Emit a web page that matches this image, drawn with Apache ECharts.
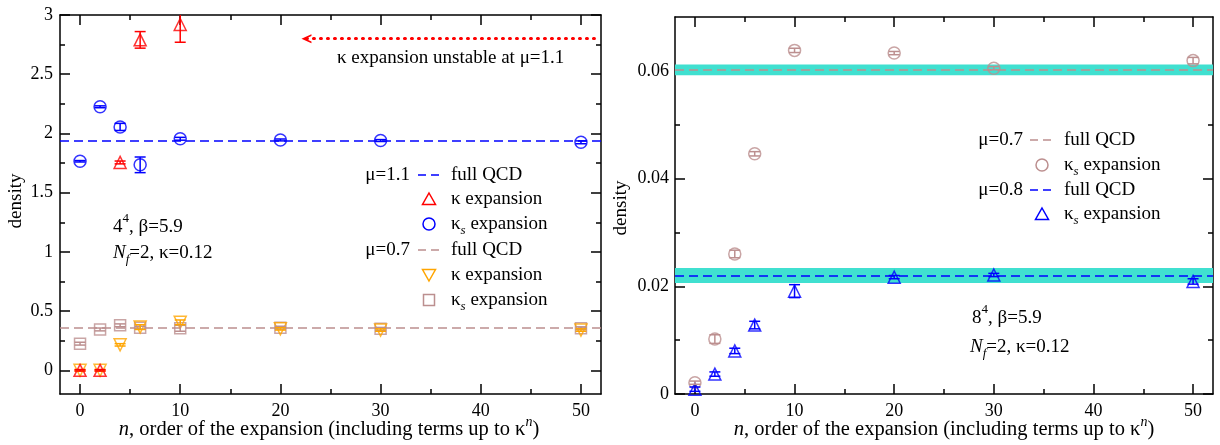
<!DOCTYPE html>
<html><head><meta charset="utf-8">
<script src="https://cdn.jsdelivr.net/npm/echarts@6/dist/echarts.min.js"></script>
<style>html,body{margin:0;padding:0;background:#fff}#c{width:1220px;height:445px}</style>
</head><body><div id="c"></div>
<script>
// ---------- data ----------
const nAll = [0, 2, 4, 6, 10, 20, 30, 50];
const nKappa = [0, 2, 4, 6, 10];
// left panel (4^4)
const ks11 = [1.765, 2.225, 2.055, 1.735, 1.955, 1.945, 1.94, 1.925];
const ks11Err = [0.006, 0.008, 0.03, 0.066, 0.012, 0.008, 0.008, 0.012];
const k11 = [0, 0, 1.755, 2.79, 2.92];
const k11Err = [0.006, 0.006, 0.012, 0.07, 0.15];
const k07 = [0, 0, 0.215, 0.365, 0.405, 0.35, 0.34, 0.34];
const k07Err = [0.006, 0.006, 0.01, 0.02, 0.02, 0.01, 0.01, 0.01];
const ks07 = [0.225, 0.345, 0.38, 0.36, 0.355, 0.36, 0.35, 0.355];
const ks07Err = [0.012, 0.012, 0.012, 0.012, 0.025, 0.012, 0.012, 0.012];
const qcd11 = 1.94;
const qcd07 = 0.362;
const arrowY = 2.8, arrowX0 = 22.6, arrowX1 = 51.8;
// right panel (8^4)
const ks07R = [0.0021, 0.0102, 0.026, 0.0446, 0.0638, 0.0633, 0.0605, 0.0619];
const ks07RErr = [0.0003, 0.0008, 0.0007, 0.0004, 0.0004, 0.0003, 0.0003, 0.0006];
const ks08R = [0.0009, 0.0037, 0.008, 0.0128, 0.0191, 0.0217, 0.0221, 0.0209];
const ks08RErr = [0.0004, 0.0004, 0.0005, 0.0007, 0.0012, 0.0003, 0.0003, 0.0005];
const qcd07R = 0.0602, qcd07RErr = 0.001;
const qcd08R = 0.022, qcd08RErr = 0.0014;
// ticks
const xMajor = [0, 10, 20, 30, 40, 50];
const xMinor = [5, 15, 25, 35, 45];
const yMajorL = [0, 0.5, 1, 1.5, 2, 2.5, 3];
const yMinorL = [0.25, 0.75, 1.25, 1.75, 2.25, 2.75];
const yMajorR = [0, 0.02, 0.04, 0.06];
const yMinorR = [0.01, 0.03, 0.05];

// ---------- styling ----------
const FONT = 'Liberation Serif';
const BLUE = '#0000ff', RED = '#ff0000', ORANGE = '#ffa500', BROWN = '#bc8f8f', CYAN = '#40e0d0';
const AX = {color: '#000', width: 1.5};

function xAxes(g) {
  const base = {gridIndex: g, type: 'value', min: -2, max: 52, splitLine: {show: false}};
  return [
    Object.assign({}, base, {position: 'bottom', axisLine: {show: true, onZero: false, lineStyle: AX},
      axisTick: {show: true, inside: true, length: 10, customValues: xMajor, lineStyle: AX},
      axisLabel: {show: true, customValues: xMajor, color: '#000', fontFamily: FONT, fontSize: 18, margin: 8}}),
    Object.assign({}, base, {position: 'bottom', axisLine: {show: false, onZero: false},
      axisTick: {show: true, inside: true, length: 5, customValues: xMinor, lineStyle: AX}, axisLabel: {show: false}}),
    Object.assign({}, base, {position: 'top', axisLine: {show: true, onZero: false, lineStyle: AX},
      axisTick: {show: true, inside: true, length: 10, customValues: xMajor, lineStyle: AX}, axisLabel: {show: false}}),
    Object.assign({}, base, {position: 'top', axisLine: {show: false, onZero: false},
      axisTick: {show: true, inside: true, length: 5, customValues: xMinor, lineStyle: AX}, axisLabel: {show: false}})
  ];
}
function yAxes(g, min, max, maj, mnr, margin) {
  const base = {gridIndex: g, type: 'value', min: min, max: max, splitLine: {show: false}};
  return [
    Object.assign({}, base, {position: 'left', axisLine: {show: true, onZero: false, lineStyle: AX},
      axisTick: {show: true, inside: true, length: 10, customValues: maj, lineStyle: AX},
      axisLabel: {show: true, customValues: maj, color: '#000', fontFamily: FONT, fontSize: 18, margin: margin}}),
    Object.assign({}, base, {position: 'left', axisLine: {show: false, onZero: false},
      axisTick: {show: true, inside: true, length: 5, customValues: mnr, lineStyle: AX}, axisLabel: {show: false}}),
    Object.assign({}, base, {position: 'right', axisLine: {show: true, onZero: false, lineStyle: AX},
      axisTick: {show: true, inside: true, length: 10, customValues: maj, lineStyle: AX}, axisLabel: {show: false}}),
    Object.assign({}, base, {position: 'right', axisLine: {show: false, onZero: false},
      axisTick: {show: true, inside: true, length: 5, customValues: mnr, lineStyle: AX}, axisLabel: {show: false}})
  ];
}

function scatter(ax, ns, ys, color, symbol, size, rot) {
  return {type: 'scatter', xAxisIndex: ax, yAxisIndex: ax, z: 5,
    data: ns.map((n, i) => [n, ys[i]]), symbol: symbol, symbolSize: size, symbolRotate: rot || 0,
    itemStyle: {color: 'rgba(255,255,255,0)', borderColor: color, borderWidth: 1.5}};
}
function errBars(ax, ns, ys, es, color) {
  return {type: 'custom', xAxisIndex: ax, yAxisIndex: ax, z: 6, clip: true,
    data: ns.map((n, i) => [n, ys[i], es[i]]),
    encode: {x: 0, y: 1},
    renderItem: function (params, api) {
      const x = api.value(0), y = api.value(1), e = api.value(2);
      const t = api.coord([x, y + e]), b = api.coord([x, y - e]);
      const w = 5.5;
      const st = {stroke: color, lineWidth: 1.5, fill: null};
      return {type: 'group', children: [
        {type: 'line', shape: {x1: t[0], y1: t[1], x2: b[0], y2: b[1]}, style: st},
        {type: 'line', shape: {x1: t[0] - w, y1: t[1], x2: t[0] + w, y2: t[1]}, style: st},
        {type: 'line', shape: {x1: b[0] - w, y1: b[1], x2: b[0] + w, y2: b[1]}, style: st}
      ]};
    }};
}
function hline(ax, v, color) {
  return {type: 'line', xAxisIndex: ax, yAxisIndex: ax, data: [], z: 4,
    markLine: {silent: true, symbol: 'none', precision: 8, label: {show: false},
      lineStyle: {type: [9, 5], color: color, width: 1.5}, data: [{yAxis: v}]}};
}

// ---------- rich text via measured runs ----------
const mctx = document.createElement('canvas').getContext('2d');
function tw(t, size, it) { mctx.font = (it ? 'italic ' : '') + size + 'px "' + FONT + '"'; return mctx.measureText(t).width; }
function runs(x, y, parts, align, size) {
  size = size || 19;
  const items = parts.map(p => {
    const f = p[1] || '';
    const s = (f.includes('b') || f.includes('p')) ? Math.round(size * 0.7) : size;
    return {t: p[0], it: f.includes('i'), s: s, dy: f.includes('b') ? 7 : (f.includes('p') ? -8 : 0), w: tw(p[0], s, f.includes('i'))};
  });
  const total = items.reduce((a, b) => a + b.w, 0);
  let cx = align === 'center' ? x - total / 2 : (align === 'right' ? x - total : x);
  return items.map(it => {
    const el = {type: 'text', x: cx, y: y + it.dy, z: 100,
      style: {text: it.t, fontSize: it.s, fontFamily: FONT, fontStyle: it.it ? 'italic' : 'normal', fill: '#000', align: 'left', verticalAlign: 'middle'}};
    cx += it.w;
    return el;
  });
}
function keyLine(x1, x2, y, color) {
  return {type: 'line', z: 100, shape: {x1: x1, y1: y, x2: x2, y2: y}, style: {stroke: color, lineWidth: 1.5, lineDash: [8, 5]}};
}
function keySym(kind, cx, cy, color) {
  const st = {stroke: color, lineWidth: 1.5, fill: 'none'};
  if (kind === 'circle') return {type: 'circle', z: 100, shape: {cx: cx, cy: cy, r: 6}, style: st};
  if (kind === 'rect') return {type: 'rect', z: 100, shape: {x: cx - 5.5, y: cy - 5.5, width: 11, height: 11}, style: st};
  if (kind === 'up') return {type: 'polygon', z: 100, shape: {points: [[cx, cy - 6], [cx + 6.5, cy + 5.5], [cx - 6.5, cy + 5.5]]}, style: st};
  return {type: 'polygon', z: 100, shape: {points: [[cx, cy + 6], [cx + 6.5, cy - 5.5], [cx - 6.5, cy - 5.5]]}, style: st};
}

const G = [];
function push(a) { if (Array.isArray(a)) a.forEach(e => G.push(e)); else G.push(a); }
// left legend
const LX = {lab: 410, d1: 418, d2: 441, sym: 429, txt: 451};
const LR = [175, 199, 224, 250, 275, 300];
push(runs(LX.lab, LR[0], [['μ=1.1']], 'right'));
push(keyLine(LX.d1, LX.d2, LR[0], BLUE));
push(runs(LX.txt, LR[0], [['full QCD']]));
push(keySym('up', LX.sym, LR[1], RED));
push(runs(LX.txt, LR[1], [['κ expansion']]));
push(keySym('circle', LX.sym, LR[2], BLUE));
push(runs(LX.txt, LR[2], [['κ'], ['s', 'ib'], [' expansion']]));
push(runs(LX.lab, LR[3], [['μ=0.7']], 'right'));
push(keyLine(LX.d1, LX.d2, LR[3], BROWN));
push(runs(LX.txt, LR[3], [['full QCD']]));
push(keySym('down', LX.sym, LR[4], ORANGE));
push(runs(LX.txt, LR[4], [['κ expansion']]));
push(keySym('rect', LX.sym, LR[5], BROWN));
push(runs(LX.txt, LR[5], [['κ'], ['s', 'ib'], [' expansion']]));
// left annotations
push(runs(113, 227, [['4'], ['4', 'p'], [', β=5.9']]));
push(runs(113, 253, [['N', 'i'], ['f', 'ib'], ['=2, κ=0.12']]));
push(runs(337, 58, [['κ expansion unstable at μ=1.1']]));
// right legend
const RX = {lab: 1023, d1: 1030, d2: 1053, sym: 1042, txt: 1064};
const RR = [140, 165, 190, 214];
push(runs(RX.lab, RR[0], [['μ=0.7']], 'right'));
push(keyLine(RX.d1, RX.d2, RR[0], BROWN));
push(runs(RX.txt, RR[0], [['full QCD']]));
push(keySym('circle', RX.sym, RR[1], BROWN));
push(runs(RX.txt, RR[1], [['κ'], ['s', 'ib'], [' expansion']]));
push(runs(RX.lab, RR[2], [['μ=0.8']], 'right'));
push(keyLine(RX.d1, RX.d2, RR[2], BLUE));
push(runs(RX.txt, RR[2], [['full QCD']]));
push(keySym('up', RX.sym, RR[3], BLUE));
push(runs(RX.txt, RR[3], [['κ'], ['s', 'ib'], [' expansion']]));
// right annotations
push(runs(972, 318, [['8'], ['4', 'p'], [', β=5.9']]));
push(runs(970, 347, [['N', 'i'], ['f', 'ib'], ['=2, κ=0.12']]));
// axis titles
const xTitle = [['n', 'i'], [', order of the expansion (including terms up to κ'], ['n', 'ip'], [')']];
push(runs(329, 430, xTitle, 'center', 20.5));
push(runs(944, 430, xTitle, 'center', 20.5));
push({type: 'text', x: 16, y: 201, rotation: Math.PI / 2, z: 100,
  style: {text: 'density', fontSize: 19, fontFamily: FONT, fill: '#000', align: 'center', verticalAlign: 'middle'}});
push({type: 'text', x: 621, y: 208, rotation: Math.PI / 2, z: 100,
  style: {text: 'density', fontSize: 19, fontFamily: FONT, fill: '#000', align: 'center', verticalAlign: 'middle'}});

const chevron = 'path://M0,10 L5,0 L10,10 L8,10 L5,4 L2,10 Z';

const option = {
  animation: false,
  backgroundColor: '#fff',
  grid: [
    {left: 60, top: 15, width: 541, height: 379, outerBoundsMode: 'none'},
    {left: 675, top: 17, width: 538, height: 377, outerBoundsMode: 'none'}
  ],
  xAxis: xAxes(0).concat(xAxes(1)),
  yAxis: yAxes(0, -0.2, 3, yMajorL, yMinorL, 7).concat(yAxes(1, 0, 0.07, yMajorR, yMinorR, 6)),
  series: [
    // left
    hline(0, qcd11, BLUE),
    hline(0, qcd07, BROWN),
    {type: 'line', xAxisIndex: 0, yAxisIndex: 0, data: [], z: 4,
      markLine: {silent: true, precision: 8, label: {show: false}, symbol: [chevron, 'none'], symbolSize: [9, 10],
        lineStyle: {type: [1, 6], cap: 'round', color: RED, width: 3},
        data: [[{coord: [arrowX0, arrowY]}, {coord: [arrowX1, arrowY]}]]}},
    scatter(0, nAll, ks07, BROWN, 'rect', 11),
    errBars(0, nAll, ks07, ks07Err, BROWN),
    scatter(0, nAll, k07, ORANGE, 'triangle', 12, 180),
    errBars(0, nAll, k07, k07Err, ORANGE),
    scatter(0, nKappa, k11, RED, 'triangle', 12),
    errBars(0, nKappa, k11, k11Err, RED),
    scatter(0, nAll, ks11, BLUE, 'circle', 12),
    errBars(0, nAll, ks11, ks11Err, BLUE),
    // right
    {type: 'line', xAxisIndex: 4, yAxisIndex: 4, data: [], z: 1,
      markArea: {silent: true, precision: 8, itemStyle: {color: CYAN, opacity: 1},
        data: [[{yAxis: qcd07R - qcd07RErr}, {yAxis: qcd07R + qcd07RErr}],
               [{yAxis: qcd08R - qcd08RErr}, {yAxis: qcd08R + qcd08RErr}]]}},
    hline(4, qcd07R, BROWN),
    hline(4, qcd08R, BLUE),
    scatter(4, nAll, ks07R, BROWN, 'circle', 12),
    errBars(4, nAll, ks07R, ks07RErr, BROWN),
    scatter(4, nAll, ks08R, BLUE, 'triangle', 12),
    errBars(4, nAll, ks08R, ks08RErr, BLUE)
  ],
  graphic: {elements: G}
};
const chart = echarts.init(document.getElementById('c'), null, {renderer: 'canvas'});
chart.setOption(option);
</script></body></html>
